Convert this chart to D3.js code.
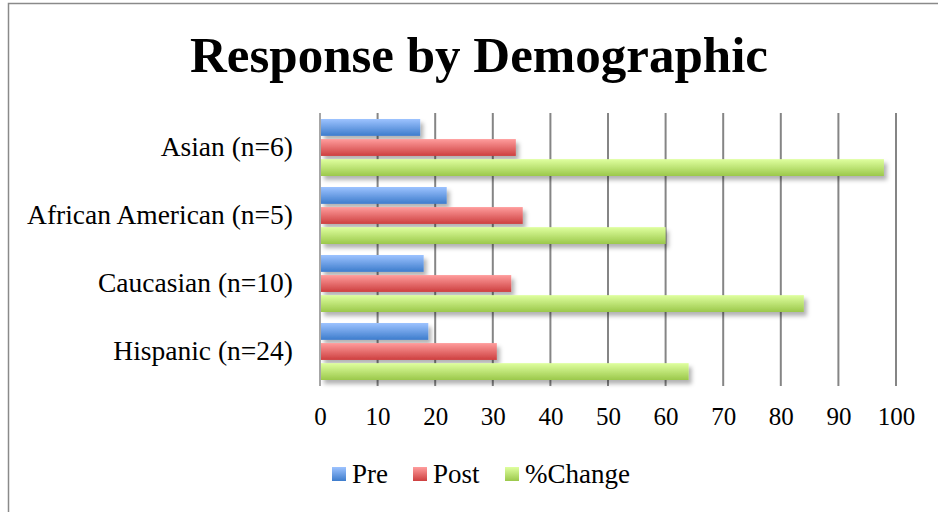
<!DOCTYPE html>
<html>
<head>
<meta charset="utf-8">
<script src="https://cdn.jsdelivr.net/npm/d3@7"></script>
<style>
  body { margin: 0; background: #fff; }
  text { font-family: "Liberation Serif", serif; fill: #000; }
</style>
</head>
<body>
<div id="chart"></div>
<script>
// chart data
const categories = ["Asian (n=6)", "African American (n=5)", "Caucasian (n=10)", "Hispanic (n=24)"];
const seriesNames = ["Pre", "Post", "%Change"];
const preValues = [17.4, 22.0, 18.0, 18.8];
const postValues = [34.0, 35.2, 33.2, 30.7];
const changeValues = [97.9, 60.0, 84.0, 64.0];
const xTicks = [0, 10, 20, 30, 40, 50, 60, 70, 80, 90, 100];

const svgWidth = 938;
const svgHeight = 512;

const margin = { top: 113, right: 42, bottom: 127, left: 320 };
const width = svgWidth - margin.left - margin.right;
const height = svgHeight - margin.top - margin.bottom;

const svg = d3.select("#chart")
  .append("svg")
  .attr("width", svgWidth)
  .attr("height", svgHeight);

// gradients + shadow
const defs = svg.append("defs");
const grads = [
  { id: "gPre", top: "#9dc3ff", bottom: "#3d7ccc" },
  { id: "gPost", top: "#ff9d9d", bottom: "#cd3f3f" },
  { id: "gChange", top: "#dfff9f", bottom: "#9bc84b" }
];
grads.forEach(g => {
  const lg = defs.append("linearGradient")
    .attr("id", g.id)
    .attr("x1", 0).attr("y1", 0).attr("x2", 0).attr("y2", 1);
  lg.append("stop").attr("offset", "0%").attr("stop-color", g.top);
  lg.append("stop").attr("offset", "100%").attr("stop-color", g.bottom);
});
defs.append("filter")
  .attr("id", "shadow")
  .attr("x", "-10%").attr("y", "-40%").attr("width", "130%").attr("height", "200%")
  .append("feDropShadow")
  .attr("dx", 3).attr("dy", 4)
  .attr("stdDeviation", 2)
  .attr("flood-color", "#000")
  .attr("flood-opacity", 0.3);

// outer border
svg.append("rect")
  .attr("x", 8.5).attr("y", 3.5)
  .attr("width", 1000).attr("height", 1000)
  .attr("fill", "none")
  .attr("stroke", "#8a8a8a")
  .attr("stroke-width", 1.5);

// title
svg.append("text")
  .attr("x", 479)
  .attr("y", 72)
  .attr("text-anchor", "middle")
  .style("font-size", "51px")
  .style("font-weight", "bold")
  .text("Response by Demographic");

const chartGroup = svg.append("g")
  .attr("transform", `translate(${margin.left}, ${margin.top})`);

const xScale = d3.scaleLinear()
  .domain([0, 100])
  .range([0, 576]);

const yScale = d3.scaleBand()
  .domain(categories)
  .range([0, height])
  .padding(0);

const ySub = d3.scaleBand()
  .domain(seriesNames)
  .range([6, yScale.bandwidth() - 5])
  .paddingInner(0.16);

// gridlines
chartGroup.selectAll(".grid")
  .data(xTicks.slice(1))
  .enter()
  .append("line")
  .attr("x1", d => xScale(d))
  .attr("x2", d => xScale(d))
  .attr("y1", 0)
  .attr("y2", height + 1)
  .attr("stroke", "#858585")
  .attr("stroke-width", 2);

// x tick labels
const bottomAxis = d3.axisBottom(xScale)
  .tickValues(xTicks)
  .tickSize(0)
  .tickPadding(22);
const xAxisG = chartGroup.append("g")
  .attr("transform", `translate(0, ${height})`)
  .call(bottomAxis);
xAxisG.select(".domain").remove();
xAxisG.selectAll("text")
  .style("font-family", "'Liberation Serif', serif")
  .style("font-size", "25px")
  .attr("fill", "#000");

// bars
const rows = categories.map((c, i) => ({
  cat: c,
  vals: [
    { key: "Pre", v: preValues[i], fill: "url(#gPre)" },
    { key: "Post", v: postValues[i], fill: "url(#gPost)" },
    { key: "%Change", v: changeValues[i], fill: "url(#gChange)" }
  ]
}));

const groups = chartGroup.selectAll(".cat")
  .data(rows)
  .enter()
  .append("g")
  .attr("transform", d => `translate(0, ${yScale(d.cat)})`);

groups.selectAll("rect")
  .data(d => d.vals)
  .enter()
  .append("rect")
  .attr("x", xScale(0) + 1)
  .attr("y", d => ySub(d.key))
  .attr("width", d => xScale(d.v) - xScale(0) - 1)
  .attr("height", ySub.bandwidth())
  .attr("fill", d => d.fill)
  .attr("filter", "url(#shadow)");

// y axis line
chartGroup.append("line")
  .attr("x1", 0).attr("x2", 0)
  .attr("y1", 0).attr("y2", height + 1)
  .attr("stroke", "#a6a6a6")
  .attr("stroke-width", 2);

// category labels
const leftAxis = d3.axisLeft(yScale)
  .tickSize(0)
  .tickPadding(27);
const yAxisG = chartGroup.append("g").call(leftAxis);
yAxisG.select(".domain").remove();
yAxisG.selectAll("text")
  .style("font-family", "'Liberation Serif', serif")
  .style("font-size", "27.5px")
  .attr("fill", "#000");

// legend
const legendItems = [
  { name: "Pre", fill: "url(#gPre)", x: 332 },
  { name: "Post", fill: "url(#gPost)", x: 413 },
  { name: "%Change", fill: "url(#gChange)", x: 505 }
];
const legend = svg.append("g");
const li = legend.selectAll("g")
  .data(legendItems)
  .enter()
  .append("g")
  .attr("transform", d => `translate(${d.x}, 467)`);
li.append("rect")
  .attr("width", 14)
  .attr("height", 14)
  .attr("fill", d => d.fill);
li.append("text")
  .attr("x", 20)
  .attr("y", 16)
  .style("font-size", "27px")
  .text(d => d.name);
</script>
</body>
</html>
